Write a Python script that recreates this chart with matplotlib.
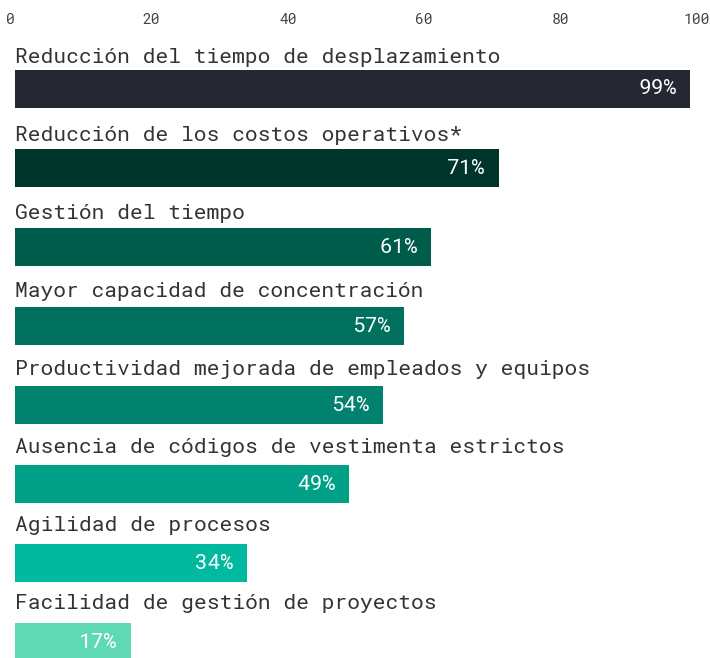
import matplotlib.pyplot as plt
from matplotlib import font_manager

# ventajas del teletrabajo, porcentaje de respuestas
categorias = [
    "Reducción del tiempo de desplazamiento",
    "Reducción de los costos operativos*",
    "Gestión del tiempo",
    "Mayor capacidad de concentración",
    "Productividad mejorada de empleados y equipos",
    "Ausencia de códigos de vestimenta estrictos",
    "Agilidad de procesos",
    "Facilidad de gestión de proyectos",
]
valores = [99, 71, 61, 57, 54, 49, 34, 17]
colores = ["#252833", "#00352c", "#005c4a", "#00715e", "#00826f",
           "#00a087", "#00b99e", "#5fd9b3"]
ticks = [0, 20, 40, 60, 80, 100]

instaladas = {f.name for f in font_manager.fontManager.ttflist}
fuente = ["Roboto Mono"] if "Roboto Mono" in instaladas else []
fuente += ["DejaVu Sans Mono"]
plt.rcParams["font.family"] = fuente

W, H = 710, 658
fig = plt.figure(figsize=(W / 100, H / 100), dpi=100)
ax = fig.add_axes([15 / W, 0, (697 - 15) / W, (658 - 40) / H])

alto = 0.48
pos = list(range(len(valores)))
ax.barh(pos, valores, height=alto, color=colores)

for i, (cat, v) in enumerate(zip(categorias, valores)):
    # las etiquetas se separan un poco más de la barra en cada fila
    ax.text(0, i - alto / 2 - 0.09 - 0.012 * i, cat, ha="left", va="baseline",
            fontsize=15.3, color="#333333")
    ax.text(v - 2, i, f"{v}%", ha="right", va="center",
            fontsize=15.3, color="white")

ax.set_xlim(0, 100)
ax.set_ylim(7.2, -0.62)
ax.set_yticks([])
ax.set_xticks(ticks)
ax.set_xticklabels([str(t) for t in ticks])
ax.xaxis.tick_top()
ax.tick_params(axis="x", length=0, pad=9, labelsize=10.5, labelcolor="#444444")
ax.get_xticklabels()[0].set_horizontalalignment("right")
for s in ax.spines.values():
    s.set_visible(False)

fig.savefig("out.png", dpi=100)
